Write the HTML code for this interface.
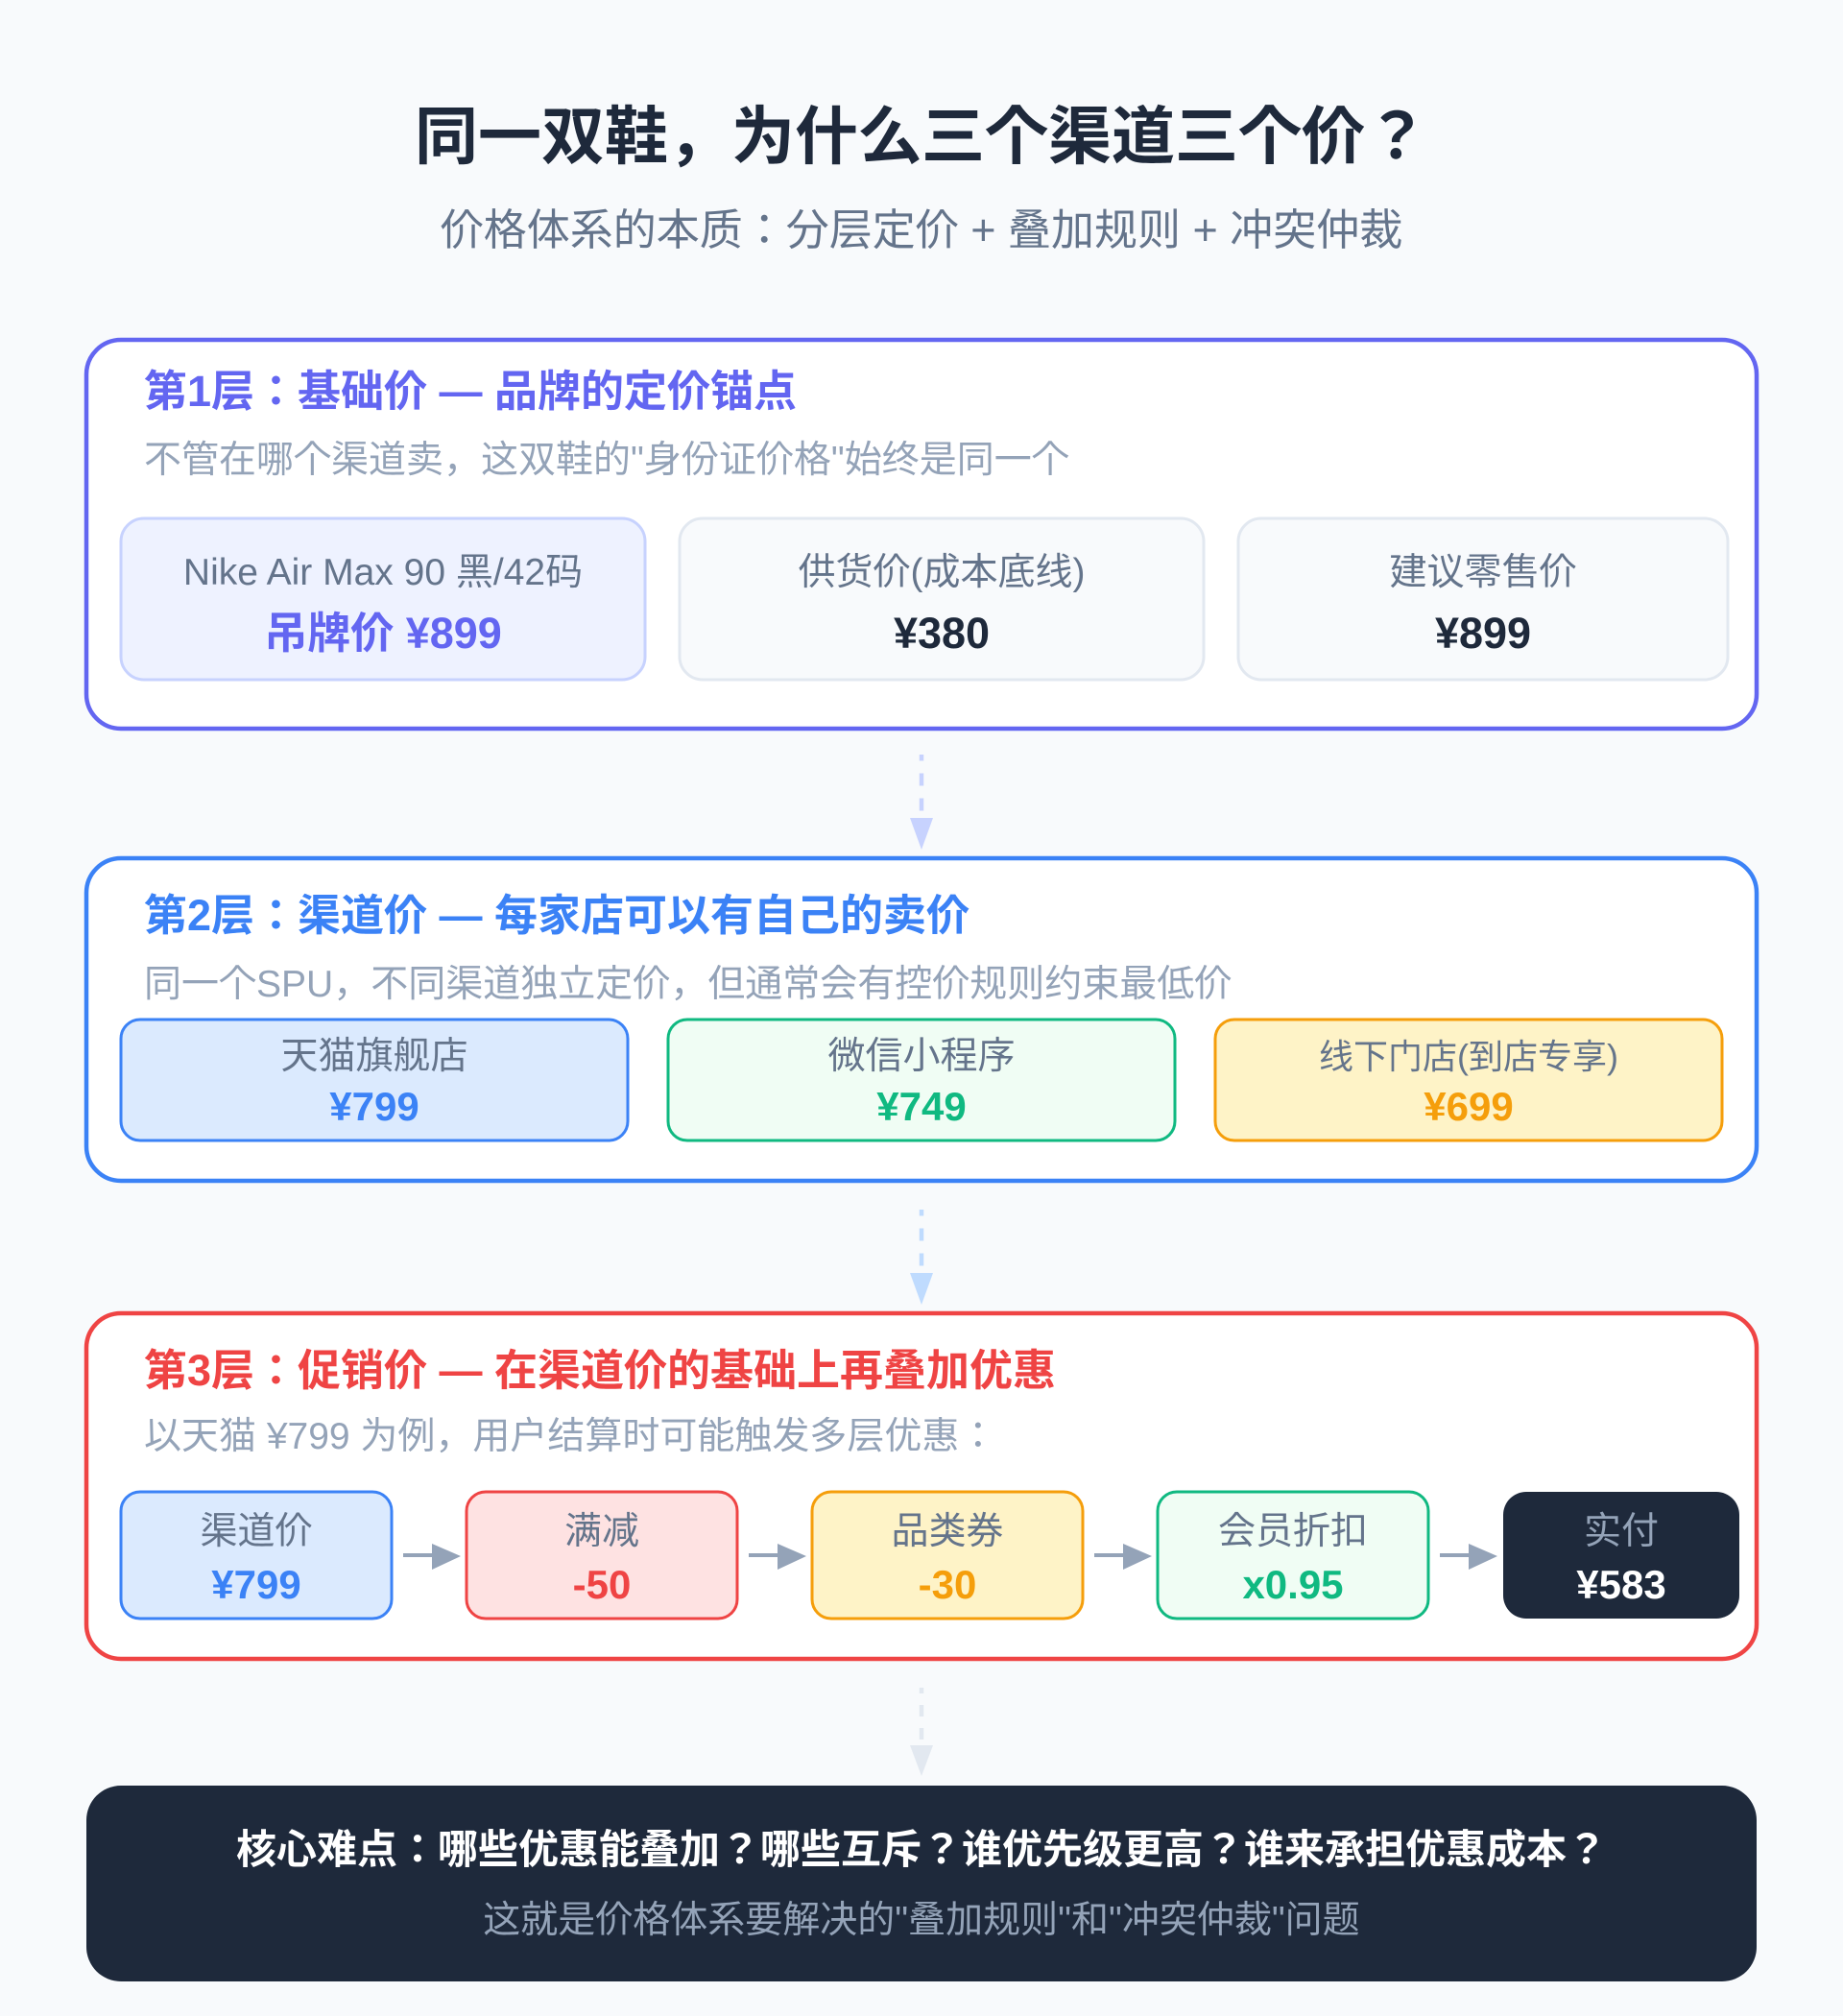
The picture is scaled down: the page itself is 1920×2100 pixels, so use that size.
<!DOCTYPE html>
<html lang="ja"><head><meta charset="utf-8"><title>价格体系</title>
<style>
html,body{margin:0;padding:0;background:#f8fafc}
svg{display:block}
text{font-family:"Liberation Sans","Noto Sans CJK JP",sans-serif}
.m{text-anchor:middle}
.b{font-weight:700}
.h{font-size:45px;font-weight:700}
.s{font-size:39px;fill:#94a3b8}
.l{font-size:39px;fill:#64748b;text-anchor:middle}
.v{font-size:45px;font-weight:700;text-anchor:middle}
.w{font-size:42px;font-weight:700;text-anchor:middle}
</style></head><body>
<svg width="1920" height="2100" viewBox="0 0 1920 2100" xmlns="http://www.w3.org/2000/svg">
<rect width="1920" height="2100" fill="#f8fafc"/>
<text x="960" y="165" class="m b" font-size="66" fill="#1e293b">同一双鞋，为什么三个渠道三个价？</text>
<text x="960" y="255" class="m" font-size="45" fill="#64748b">价格体系的本质：分层定价 + 叠加规则 + 冲突仲裁</text>

<rect x="90" y="354" width="1740" height="405" rx="36" fill="#fff" stroke="#6366f1" stroke-width="4.5"/>
<text x="150" y="423" class="h" fill="#6366f1">第1层：基础价 — 品牌的定价锚点</text>
<text x="150" y="492" class="s">不管在哪个渠道卖，这双鞋的"身份证价格"始终是同一个</text>
<rect x="126" y="540" width="546" height="168" rx="24" fill="#eef2ff" stroke="#c7d2fe" stroke-width="3"/>
<text x="399" y="609" class="l">Nike Air Max 90 黑/42码</text>
<text x="399" y="675" class="v" fill="#6366f1">吊牌价 ¥899</text>
<rect x="708" y="540" width="546" height="168" rx="24" fill="#f8fafc" stroke="#e2e8f0" stroke-width="3"/>
<text x="981" y="609" class="l">供货价(成本底线)</text>
<text x="981" y="675" class="v" fill="#1e293b">¥380</text>
<rect x="1290" y="540" width="510" height="168" rx="24" fill="#f8fafc" stroke="#e2e8f0" stroke-width="3"/>
<text x="1545" y="609" class="l">建议零售价</text>
<text x="1545" y="675" class="v" fill="#1e293b">¥899</text>

<path d="M960 786V792.5M960 805.5V818.5M960 831.5V844.5" stroke="#c7d2fe" stroke-width="4.5" fill="none"/>
<polygon points="948,852 972,852 960,885" fill="#c7d2fe"/>

<rect x="90" y="894" width="1740" height="336" rx="36" fill="#fff" stroke="#3b82f6" stroke-width="4.5"/>
<text x="150" y="969" class="h" fill="#3b82f6">第2层：渠道价 — 每家店可以有自己的卖价</text>
<text x="150" y="1038" class="s">同一个SPU，不同渠道独立定价，但通常会有控价规则约束最低价</text>
<rect x="126" y="1062" width="528" height="126" rx="20" fill="#dbeafe" stroke="#3b82f6" stroke-width="3"/>
<text x="390" y="1113" class="l">天猫旗舰店</text>
<text x="390" y="1167" class="w" fill="#3b82f6">¥799</text>
<rect x="696" y="1062" width="528" height="126" rx="20" fill="#f0fdf4" stroke="#10b981" stroke-width="3"/>
<text x="960" y="1113" class="l">微信小程序</text>
<text x="960" y="1167" class="w" fill="#10b981">¥749</text>
<rect x="1266" y="1062" width="528" height="126" rx="20" fill="#fef3c7" stroke="#f59e0b" stroke-width="3"/>
<text x="1530" y="1113" class="l" style="font-size:36px">线下门店(到店专享)</text>
<text x="1530" y="1167" class="w" fill="#f59e0b">¥699</text>

<path d="M960 1260V1266.5M960 1279.5V1292.5M960 1305.5V1318.5" stroke="#bfdbfe" stroke-width="4.5" fill="none"/>
<polygon points="948,1326 972,1326 960,1359" fill="#bfdbfe"/>

<rect x="90" y="1368" width="1740" height="360" rx="36" fill="#fff" stroke="#ef4444" stroke-width="4.5"/>
<text x="150" y="1443" class="h" fill="#ef4444">第3层：促销价 — 在渠道价的基础上再叠加优惠</text>
<text x="150" y="1509" class="s">以天猫 ¥799 为例，用户结算时可能触发多层优惠：</text>
<rect x="126" y="1554" width="282" height="132" rx="20" fill="#dbeafe" stroke="#3b82f6" stroke-width="3"/>
<text x="267" y="1608" class="l">渠道价</text>
<text x="267" y="1665" class="w" fill="#3b82f6">¥799</text>
<rect x="486" y="1554" width="282" height="132" rx="20" fill="#fee2e2" stroke="#ef4444" stroke-width="3"/>
<text x="627" y="1608" class="l">满减</text>
<text x="627" y="1665" class="w" fill="#ef4444">-50</text>
<rect x="846" y="1554" width="282" height="132" rx="20" fill="#fef3c7" stroke="#f59e0b" stroke-width="3"/>
<text x="987" y="1608" class="l">品类券</text>
<text x="987" y="1665" class="w" fill="#f59e0b">-30</text>
<rect x="1206" y="1554" width="282" height="132" rx="20" fill="#f0fdf4" stroke="#10b981" stroke-width="3"/>
<text x="1347" y="1608" class="l">会员折扣</text>
<text x="1347" y="1665" class="w" fill="#10b981">x0.95</text>
<rect x="1566" y="1554" width="246" height="132" rx="24" fill="#1e293b"/>
<text x="1689" y="1608" class="l" style="fill:#94a3b8">实付</text>
<text x="1689" y="1665" class="w" fill="#fff">¥583</text>

<g fill="#94a3b8" stroke="none">
<rect x="420" y="1618" width="32" height="4"/><polygon points="450,1608 480,1621 450,1635"/>
<rect x="780" y="1618" width="32" height="4"/><polygon points="810,1608 840,1621 810,1635"/>
<rect x="1140" y="1618" width="32" height="4"/><polygon points="1170,1608 1200,1621 1170,1635"/>
<rect x="1500" y="1618" width="32" height="4"/><polygon points="1530,1608 1560,1621 1530,1635"/>
</g>

<path d="M960 1758V1764M960 1776V1788M960 1800V1812" stroke="#e2e8f0" stroke-width="4.5" fill="none"/>
<polygon points="948,1818 972,1818 960,1850" fill="#e2e8f0"/>

<rect x="90" y="1860" width="1740" height="204" rx="36" fill="#1e293b"/>
<text x="960" y="1941" class="m b" font-size="42" fill="#fff">核心难点：哪些优惠能叠加？哪些互斥？谁优先级更高？谁来承担优惠成本？</text>
<text x="960" y="2013" class="m" font-size="39" fill="#94a3b8">这就是价格体系要解决的"叠加规则"和"冲突仲裁"问题</text>
</svg>
</body></html>
